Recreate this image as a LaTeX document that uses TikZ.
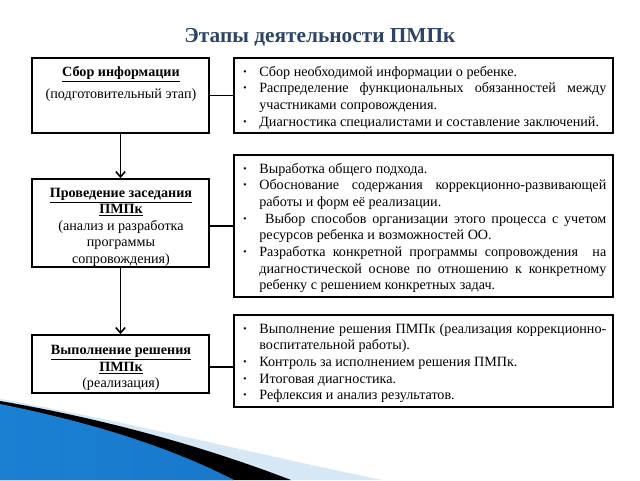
\documentclass[tikz,border=0pt]{standalone}
\usepackage{fontspec}
\setmainfont{Liberation Serif}
\usetikzlibrary{arrows.meta,fit}
\definecolor{titleblue}{HTML}{2C4468}
\definecolor{swlight}{HTML}{D6E8F5}
\definecolor{swA}{HTML}{1A80D2}
\definecolor{swB}{HTML}{55BEF0}
\definecolor{swC}{HTML}{1878CC}
\newcommand\bitem[1]{\par\noindent\hangindent=12.75pt\hangafter=1\makebox[12.75pt][l]{\hspace{0.3pt}\textbf{·}}#1}
\newcommand\rtext[1]{\parbox{273pt}{\fontsize{10.6}{12.5}\selectfont\hyphenpenalty=10000\tolerance=9999\emergencystretch=20pt #1}}
\tikzset{
  frame/.style={draw=black, line width=1.4pt, inner sep=0pt},
  link/.style={draw=black, line width=1.4pt},
  flow/.style={draw=black, line width=1.2pt, -{Straight Barb[length=4pt,width=7pt,line width=1.2pt]}},
  rtxt/.style={inner sep=0pt, anchor=west, xshift=6.75pt, yshift=-1.5pt},
  ltxt/.style={inner sep=0pt, align=center, font=\fontsize{10.6}{12.4}\selectfont}
}
\begin{document}
\begin{tikzpicture}[x=0.75pt,y=-0.75pt]
\useasboundingbox (0,0) rectangle (640,480);
\fill[white] (0,0) rectangle (640,480);
% bottom swoosh
\fill[swlight] (0,399) .. controls (120,420) and (260,455) .. (382,480) -- (0,480) -- cycle;
\fill[black] (0,401) .. controls (100,418) and (200,445) .. (291,480) -- (0,480) -- cycle;
\shade[left color=swA, middle color=swB, right color=swC] (0,404) .. controls (90,422) and (170,447) .. (234,480) -- (0,480) -- cycle;
% title
\node[text=titleblue, font=\fontsize{16}{19}\bfseries\selectfont] (title) at (320,37) {Этапы деятельности ПМПк};
% boxes
\node[frame, fit={(32,58) (209,133)}] (l1) {};
\node[frame, fit={(32,179) (209,267)}] (l2) {};
\node[frame, fit={(32,335) (209,393)}] (l3) {};
\node[frame, fit={(234,58) (613,133)}] (r1) {};
\node[frame, fit={(234,155) (613,297)}] (r2) {};
\node[frame, fit={(234,315) (613,407)}] (r3) {};
% left texts
\node[ltxt, anchor=north] (l1t) at (121,66) {\underline{\textbf{Сбор информации}}\\[4.5pt](подготовительный этап)};
\node[ltxt] (l2t) at (121,227) {\underline{\textbf{Проведение заседания}}\\\underline{\textbf{ПМПк}}\\(анализ и разработка\\программы\\сопровождения)};
\node[ltxt] (l3t) at (121,368) {\underline{\textbf{Выполнение решения}}\\\underline{\textbf{ПМПк}}\\(реализация)};
% right texts
\node[rtxt] (r1t) at (r1.west) {\rtext{%
\bitem{Сбор необходимой информации о ребенке.}
\bitem{Распределение функциональных обязанностей между участниками сопровождения.}
\bitem{Диагностика специалистами и составление заключений.}}};
\node[rtxt] (r2t) at (r2.west) {\rtext{%
\bitem{Выработка общего подхода.}
\bitem{Обоснование содержания коррекционно-развивающей работы и форм её реализации.}
\bitem{\ Выбор способов организации этого процесса с учетом ресурсов ребенка и возможностей ОО.}
\bitem{Разработка конкретной программы сопровождения \ на диагностической основе по отношению к конкретному ребенку с решением конкретных задач.}}};
\node[rtxt] (r3t) at (r3.west) {\rtext{%
\bitem{Выполнение решения ПМПк (реализация коррекционно-\linebreak воспитательной работы).}
\bitem{Контроль за исполнением решения ПМПк.}
\bitem{Итоговая диагностика.}
\bitem{Рефлексия и анализ результатов.}}};
% connectors
\draw[link] (l1.east) -- (l1.east -| r1.west);
\draw[link] ([yshift=-2.25pt]l2.east) -- ([yshift=-2.25pt]l2.east -| r2.west);
\draw[link] ([yshift=-2.25pt]l3.east) -- ([yshift=-2.25pt]l3.east -| r3.west);
\draw[flow] (l1.south) -- (l2.north);
\draw[flow] (l2.south) -- (l3.north);
\end{tikzpicture}
\end{document}
